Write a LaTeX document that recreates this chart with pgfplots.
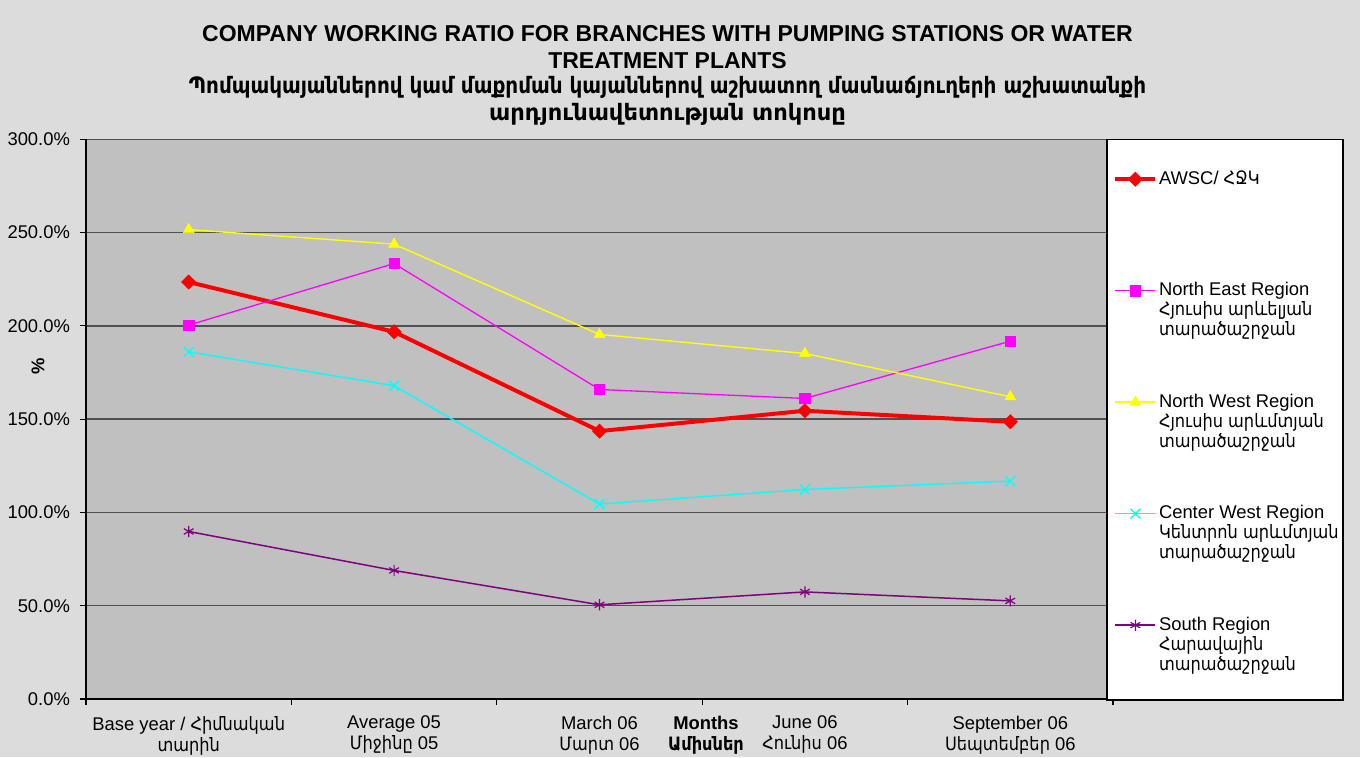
\documentclass[border=0pt]{standalone}
\usepackage{fontspec}
\setmainfont{Liberation Sans}
\newfontfamily\arm{DejaVu Sans}
\usepackage{graphicx}
\usepackage{pgfplots}
\pgfplotsset{compat=1.18}
\definecolor{bgc}{HTML}{DCDCDC}
\definecolor{plotbg}{HTML}{C0C0C0}
\definecolor{gridc}{HTML}{505050}
\definecolor{cRed}{HTML}{FF0000}
\definecolor{cMag}{HTML}{FF00FF}
\definecolor{cYel}{HTML}{FFFF00}
\definecolor{cCya}{HTML}{00FFFF}
\definecolor{cPur}{HTML}{800080}
\newcommand{\am}[1]{\scalebox{0.88}[1]{\arm #1}}
\newcommand{\lent}[1]{\raisebox{0pt}[6.6pt][0pt]{\begin{tabular}[t]{@{}l@{}}#1\end{tabular}}}
\newcommand{\fs}{\fontsize{9.2}{10.5}\selectfont}
\begin{document}
\begin{tikzpicture}
\fill[bgc] (-43pt,-29pt) rectangle (637pt,349.5pt);
\begin{axis}[
  at={(0pt,0pt)}, anchor=south west,
  scale only axis, width=513.5pt, height=279.85pt,
  xmin=-0.5, xmax=4.5, ymin=0, ymax=300,
  axis background/.style={fill=plotbg},
  axis x line*=bottom, axis y line*=left,
  axis line style={black, line width=0.6pt},
  ymajorgrids, grid style={gridc, line width=0.7pt},
  ytick={0,50,100,150,200,250,300},
  yticklabels={0.0\%,50.0\%,100.0\%,150.0\%,200.0\%,250.0\%,300.0\%},
  xtick={0,1,2,3,4},
  xticklabels={{Base year / \am{Հիմնական}\\\am{տարին}},{Average 05\\\am{Միջինը} 05},{March 06\\\am{Մարտ} 06},{June 06\\\am{Հունիս} 06},{September 06\\\am{Սեպտեմբեր} 06}},
  minor xtick={-0.5,0.5,1.5,2.5,3.5,4.5},
  major x tick style={draw=none},
  tick align=outside, major tick length=3pt, minor tick length=3pt,
  tick style={black, line width=0.6pt},
  ticklabel style={font=\fs},
  x tick label style={align=center, yshift=-2pt},
  y tick label style={xshift=-1.5pt},
  clip=false,
  legend cell align=left,
  legend style={draw=none, fill=none, at={(axis description cs:0.99416,1)}, anchor=north west,
    xshift=3pt, yshift=8.15pt, inner sep=0pt, row sep=0pt, column sep=0.8pt,
    nodes={anchor=west, inner sep=0pt}, font=\fontsize{9.2}{10}\selectfont},
  legend image code/.code={\path[draw=none,fill=none] (0pt,-27.875pt) rectangle (20pt,27.875pt);
    \draw[mark repeat=2,mark phase=2] plot coordinates {(0pt,0pt)(10pt,0pt)(20pt,0pt)};},
]
\addplot[cRed, line width=2pt, mark=square*, mark size=2.5pt, mark options={solid, line width=0.3pt, rotate=45}]
  coordinates {(0,223.5)(1,196.8)(2,143.6)(3,154.5)(4,148.6)};
\addlegendentry{\lent{AWSC/ \am{ՀՋԿ}}}
\addplot[cMag, line width=0.65pt, mark=square*, mark size=2.6pt, mark options={solid, line width=0.3pt}]
  coordinates {(0,200.4)(1,233.4)(2,165.9)(3,161.1)(4,191.8)};
\addlegendentry{\lent{North East Region\\\am{Հյուսիս արևելյան}\\\am{տարածաշրջան}}}
\addplot[cYel, line width=0.7pt, mark=triangle*, mark size=3.1pt, mark options={solid, line width=0.3pt}]
  coordinates {(0,251.6)(1,243.8)(2,195.4)(3,185.2)(4,162.0)};
\addlegendentry{\lent{North West Region\\\am{Հյուսիս արևմտյան}\\\am{տարածաշրջան}}}
\addplot[cCya, line width=0.7pt, mark=x, mark size=3.5pt, mark options={solid, line width=0.7pt}]
  coordinates {(0,186.1)(1,167.9)(2,104.5)(3,112.3)(4,116.8)};
\addlegendentry{\lent{Center West Region\\\am{Կենտրոն արևմտյան}\\\am{տարածաշրջան}}}
\addplot[cPur, line width=0.75pt, mark=asterisk, mark size=2.8pt, mark options={solid, line width=0.6pt}]
  coordinates {(0,89.8)(1,68.9)(2,50.5)(3,57.4)(4,52.6)};
\addlegendentry{\lent{South Region\\\am{Հարավային}\\\am{տարածաշրջան}}}
\draw[fill=white, line width=0.6pt] (axis description cs:0.99416,-0.0018) rectangle (axis description cs:1.22395,1.0);
\end{axis}
\node[anchor=base, font=\bfseries\fontsize{11.5}{13}\selectfont] at (290.75pt,328.5pt) {COMPANY WORKING RATIO FOR BRANCHES WITH PUMPING STATIONS OR WATER};
\node[anchor=base, font=\bfseries\fontsize{11.5}{13}\selectfont] at (290.75pt,315.5pt) {TREATMENT PLANTS};
\node[anchor=base, font=\arm\bfseries\fontsize{11.3}{13}\selectfont] at (290.75pt,302.5pt) {\scalebox{0.883}[1]{Պոմպակայաններով կամ մաքրման կայաններով աշխատող մասնաճյուղերի աշխատանքի}};
\node[anchor=base, font=\arm\bfseries\fontsize{11.3}{13}\selectfont] at (290.75pt,289.5pt) {արդյունավետության տոկոսը};
\node[anchor=base, font=\bfseries\fs] at (310pt,-15pt) {Months};
\node[anchor=base, font=\arm\bfseries\fs] at (310pt,-25.5pt) {\scalebox{0.88}[1]{Ամիսներ}};
\node[rotate=90, font=\bfseries\fs] at (-24pt,166.5pt) {\%};
\pgfresetboundingbox
\path[use as bounding box] (-43pt,-29pt) rectangle (637pt,349.5pt);
\end{tikzpicture}
\end{document}
